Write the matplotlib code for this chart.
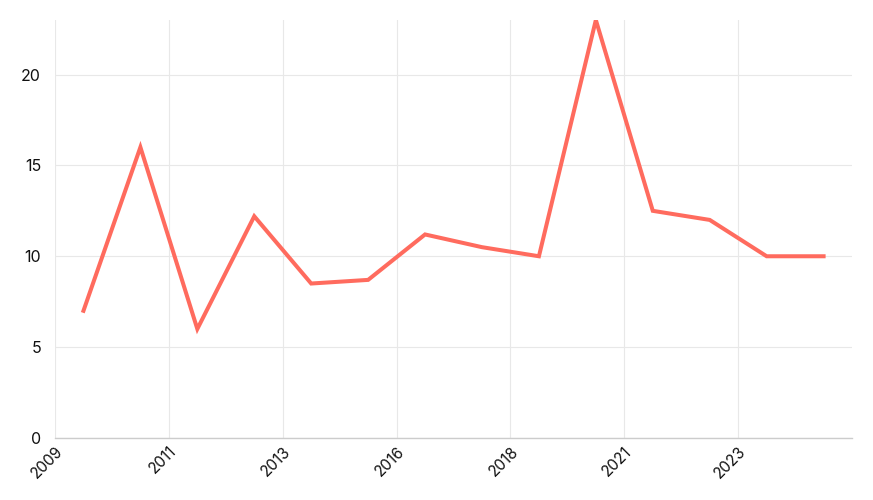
import matplotlib.pyplot as plt

plt.rcParams["font.family"] = ["Inter", "DejaVu Sans"]

years = list(range(2010, 2024))
values = [7, 16, 6, 12.2, 8.5, 8.7, 11.2, 10.5, 10, 23, 12.5, 12, 10, 10]
tick_labels = ["2009", "2011", "2013", "2016", "2018", "2021", "2023"]
y_ticks = [0, 5, 10, 15, 20]


def main():

    fig = plt.figure(figsize=(8.73, 5), dpi=100)
    ax = fig.add_axes([0.063, 0.124, 0.913, 0.836])

    x = list(range(len(years)))
    ax.plot(x, values, color="#ff6b5e", linewidth=2.9, solid_joinstyle="miter")

    ax.set_xlim(-0.5, len(years) - 0.5)
    ax.set_ylim(0, 23)

    ax.set_xticks([-0.5 + 2 * i for i in range(len(tick_labels))])
    ax.set_xticklabels(tick_labels, rotation=45, ha="right",
                       rotation_mode="anchor", fontsize=11)
    ax.set_yticks(y_ticks)
    ax.set_yticklabels([str(v) for v in y_ticks], fontsize=11.5)

    ax.grid(True, color="#e8e8e8", linewidth=0.8)
    ax.set_axisbelow(True)

    for side in ["top", "right", "left"]:
        ax.spines[side].set_visible(False)
    ax.spines["bottom"].set_color("#cccccc")
    ax.spines["bottom"].set_linewidth(1)

    ax.tick_params(axis="both", length=0, colors="#111111")
    ax.tick_params(axis="y", pad=10)
    ax.tick_params(axis="x", pad=4)

    fig.savefig("out.png", dpi=100)
    plt.close(fig)


if __name__ == "__main__":

    main()
